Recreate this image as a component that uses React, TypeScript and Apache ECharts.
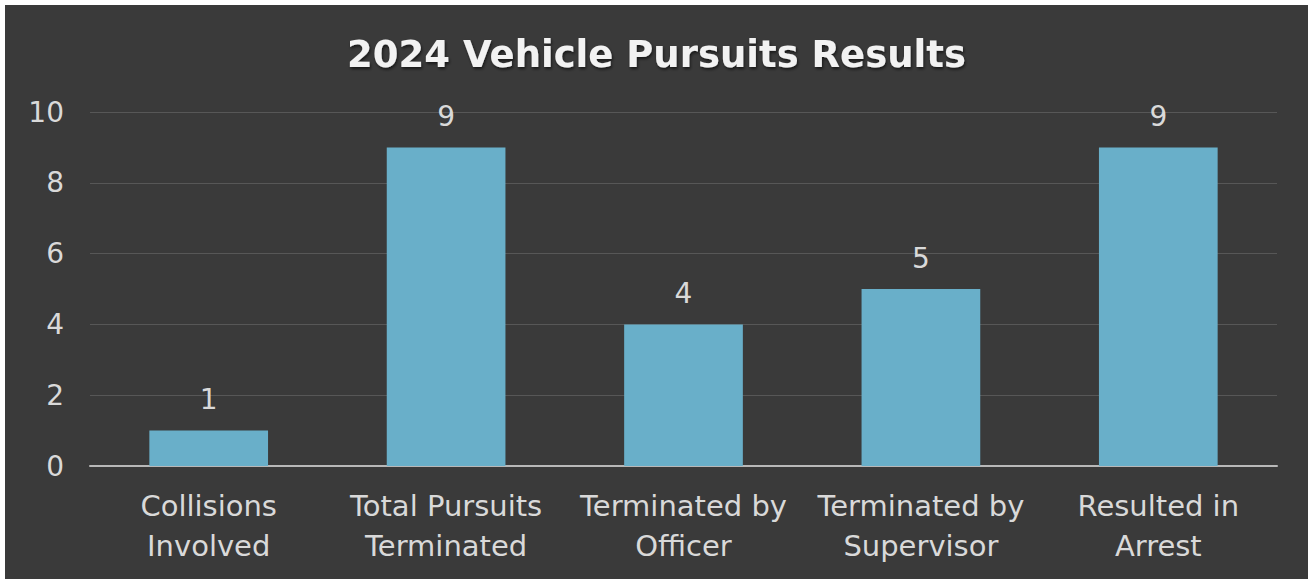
import React, { useEffect, useRef } from "react";
import * as echarts from "echarts";

const categories = [
  "Collisions\nInvolved",
  "Total Pursuits\nTerminated",
  "Terminated by\nOfficer",
  "Terminated by\nSupervisor",
  "Resulted in\nArrest",
];
const values = [1, 9, 4, 5, 9];
const titleText = "2024 Vehicle Pursuits Results";

export default function App() {
  const ref = useRef<HTMLDivElement>(null);
  useEffect(() => {
    if (!ref.current) return;
    const chart = echarts.init(ref.current, null, { renderer: "svg" });
    const font = "'DejaVu Sans', sans-serif";
    chart.setOption({
      animation: false,
      backgroundColor: "#3a3a3a",
      title: {
        text: titleText,
        left: "center",
        top: 26,
        textStyle: {
          color: "#f2f2f2",
          fontSize: 37,
          fontWeight: "bold",
          fontFamily: font,
          textShadowColor: "rgba(0,0,0,0.6)",
          textShadowBlur: 3,
          textShadowOffsetX: 1,
          textShadowOffsetY: 2,
        },
      },
      grid: { left: 85, right: 31, top: 107, bottom: 113 },
      xAxis: {
        type: "category",
        data: categories,
        axisLine: { lineStyle: { color: "#b8b8b8", width: 2 } },
        axisTick: { show: false },
        axisLabel: {
          color: "#d9d9d9",
          fontSize: 29,
          fontFamily: font,
          lineHeight: 40,
          margin: 20,
          interval: 0,
        },
      },
      yAxis: {
        type: "value",
        min: 0,
        max: 10,
        interval: 2,
        axisLine: { show: false },
        axisTick: { show: false },
        splitLine: { lineStyle: { color: "#575757", width: 1 } },
        axisLabel: {
          color: "#d9d9d9",
          fontSize: 28,
          fontFamily: font,
          margin: 26,
        },
      },
      series: [
        {
          type: "bar",
          data: values,
          barWidth: "50%",
          itemStyle: { color: "#69afc9" },
          label: {
            show: true,
            position: "top",
            distance: 17,
            color: "#d9d9d9",
            fontSize: 28,
            fontFamily: font,
          },
        },
      ],
    });
    return () => chart.dispose();
  }, []);
  return (
    <div
      style={{
        position: "fixed",
        left: 0,
        top: 0,
        width: 1310,
        height: 579,
        background: "#ffffff",
      }}
    >
      <div
        ref={ref}
        style={{ position: "absolute", left: 5, top: 5, width: 1303, height: 574 }}
      />
    </div>
  );
}
